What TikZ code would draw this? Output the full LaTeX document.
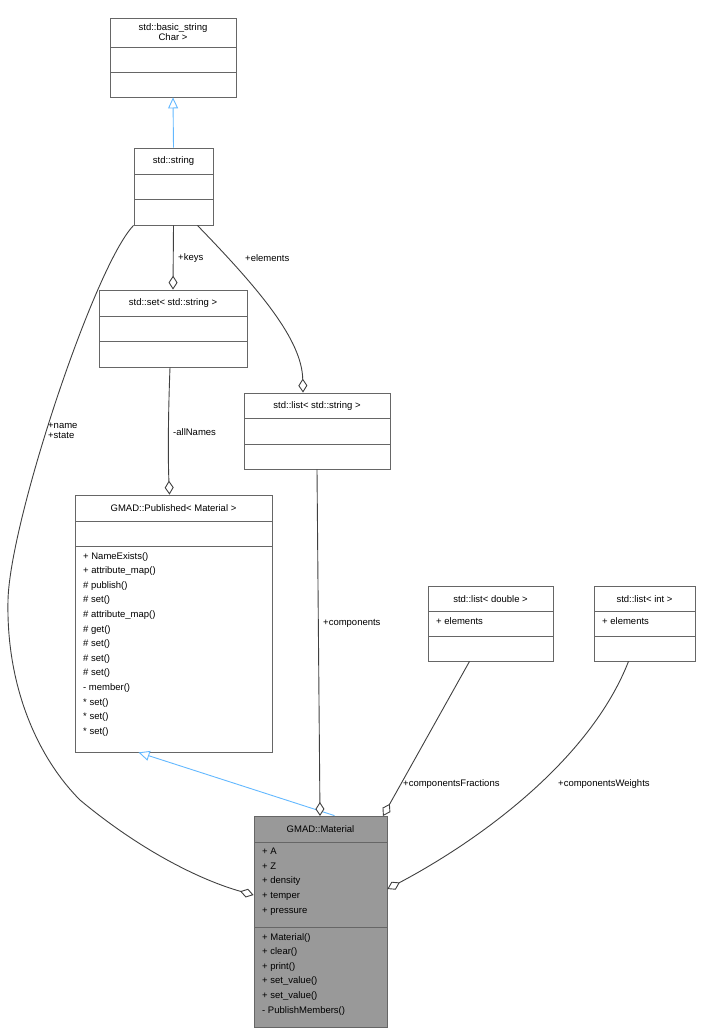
\documentclass[tikz,border=0pt]{standalone}
\usepackage{fontspec}
\setmainfont{Liberation Sans}
\usetikzlibrary{arrows.meta,fit}
\definecolor{inhblue}{HTML}{63B8FF}
\definecolor{edgegray}{HTML}{404040}
\tikzset{
  boxline/.style={draw=black!60, line width=0.8pt, inner sep=0pt},
  agg/.style={edgegray, line width=0.9pt, -{Diamond[length=14pt,width=9pt,fill=white]}},
  inh/.style={inhblue, line width=0.9pt, -{Triangle[open,length=11pt,width=10pt,fill=white]}},
  lbl/.style={font=\fontsize{9.5}{11}\selectfont, inner sep=0pt},
  members/.style={font=\fontsize{9.5}{14.6}\selectfont, align=left, anchor=north west, inner sep=0pt}
}
% box: name, x1, y1, x2, y2, first separator, second separator
\newcommand\classbox[7]{%
  \node[boxline, fit={(#2,#3)(#4,#5)}] (#1) {};
  \draw[black!60, line width=0.8pt] (#2,#6) -- (#4,#6) (#2,#7) -- (#4,#7);
}
\begin{document}
\begin{tikzpicture}[x=1pt,y=-1pt]
\useasboundingbox (0,0) rectangle (701,1034);
\fill[black!40] (254,816) rectangle (387,1027);
% classes
\classbox{bstr}{110}{18}{236}{97}{47}{72}
\node[lbl, align=center] at (173,32.5) {std::basic\_string\\[-1pt]Char \textgreater};
\classbox{str}{134}{148}{213}{225}{174}{199}
\node[lbl] at (173.5,161) {std::string};
\classbox{sset}{99}{290}{247}{367}{316}{341}
\node[lbl] at (173,303) {std::set\textless{} std::string \textgreater};
\classbox{lstr}{244}{393}{390}{469}{418}{444}
\node[lbl] at (317,406) {std::list\textless{} std::string \textgreater};
\classbox{pub}{75}{495}{272}{752}{521}{546}
\node[lbl] at (173.5,508) {GMAD::Published\textless{} Material \textgreater};
\node[members] at (83,552) {+ NameExists()\\+ attribute\_map()\\\# publish()\\\# set()\\\# attribute\_map()\\\# get()\\\# set()\\\# set()\\\# set()\\- member()\\* set()\\* set()\\* set()};
\classbox{ldbl}{428}{586}{553}{661}{611}{636}
\node[lbl] at (490.5,599) {std::list\textless{} double \textgreater};
\node[members] at (436,617) {+ elements};
\classbox{lint}{594}{586}{695}{661}{611}{636}
\node[lbl] at (644.5,599) {std::list\textless{} int \textgreater};
\node[members] at (602,617) {+ elements};
\classbox{mat}{254}{816}{387}{1027}{842}{927}
\node[lbl] at (320.5,829) {GMAD::Material};
\node[members] at (262,848) {+ A\\+ Z\\+ density\\+ temper\\+ pressure};
\node[members] at (262,933) {+ Material()\\+ clear()\\+ print()\\+ set\_value()\\+ set\_value()\\- PublishMembers()};
% inheritance
\draw[inh] (str.north) -- (bstr.south);
\draw[inh] ([xshift=14pt]mat.north) -- ([xshift=-35pt]pub.south);
% aggregation
\draw[agg] (str.south) -- (sset.north);
\node[lbl, anchor=west] at (178,258) {+keys};
\draw[agg] ([xshift=-16pt]str.south east) .. controls (260,290) and (302,340) .. ([xshift=-14pt]lstr.north);
\node[lbl, anchor=west] at (245,258) {+elements};
\draw[agg] (str.south west) .. controls (95,265) and (10,520) .. (8,600)
  .. controls (6,690) and (40,760) .. (80,800) .. controls (140,850) and (200,880) .. (mat.west |- 0,895);
\node[lbl, anchor=west, align=left] at (48,431) {+name\\[-1pt]+state};
\draw[agg] ([xshift=-3pt]sset.south) .. controls (168,420) and (168,460) .. ([xshift=-4pt]pub.north);
\node[lbl, anchor=west] at (173,432) {-allNames};
\draw[agg] (lstr.south) -- (320,816);
\node[lbl, anchor=west] at (323,623) {+components};
\draw[agg] ([xshift=-21pt]ldbl.south) -- (383,816);
\node[lbl, anchor=west] at (403,784) {+componentsFractions};
\draw[agg] ([xshift=-16pt]lint.south) .. controls (590,760) and (480,840) .. (mat.east |- 0,889);
\node[lbl, anchor=west] at (558,784) {+componentsWeights};
\end{tikzpicture}
\end{document}
